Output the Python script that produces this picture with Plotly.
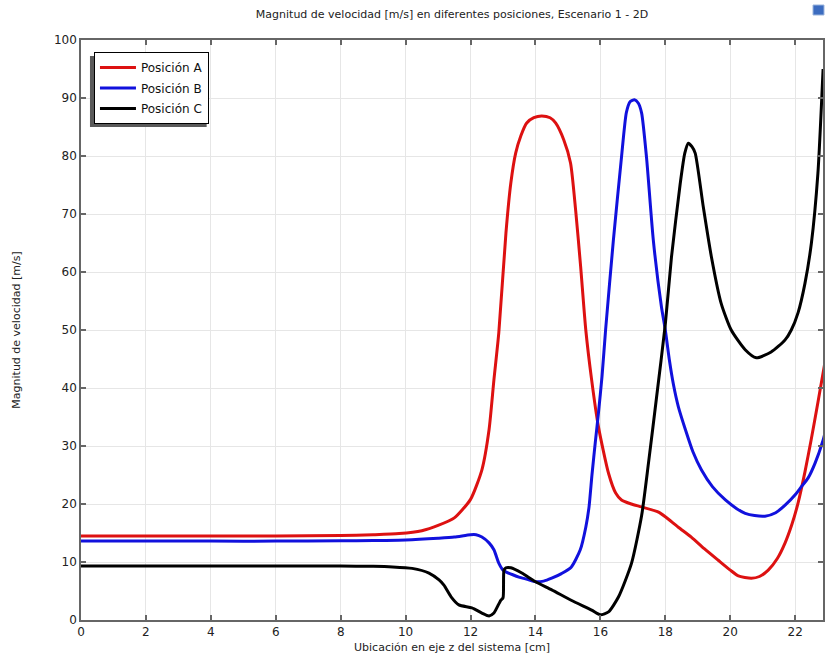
import plotly.graph_objects as go

# Position along the z axis [cm] and velocity magnitude [m/s] for each probe line
x_a = [0, 2, 4, 6, 8, 9, 9.8, 10.5, 11, 11.5, 12, 12.35, 12.57, 12.72, 12.87, 13.09, 13.24,
       13.39, 13.55, 13.73, 13.95, 14.19, 14.45, 14.62, 14.87, 15.08, 15.24, 15.39, 15.55,
       15.73, 15.94, 16.25, 16.47, 16.65, 16.95, 17.27, 17.79, 18.0, 18.4, 18.8, 19.2, 19.63,
       20.0, 20.25, 20.65, 20.9, 21.17, 21.45, 21.69, 21.9, 22.09, 22.3, 22.49, 22.7, 22.86, 22.95]
v_a = [14.5, 14.5, 14.5, 14.5, 14.55, 14.7, 14.9, 15.4, 16.3, 17.6, 20.8, 25.9, 32.8, 41.4,
       49.5, 66.7, 75.3, 80.5, 83.5, 85.7, 86.6, 86.9, 86.6, 85.7, 82.8, 78.8, 70.5, 61.0,
       50.0, 41.4, 33.3, 25.3, 21.9, 20.7, 20.0, 19.5, 18.6, 17.8, 16.0, 14.3, 12.3, 10.3,
       8.6, 7.6, 7.2, 7.5, 8.6, 10.6, 13.3, 16.5, 20.2, 25.5, 31.0, 37.5, 42.6, 45.5]

x_b = [0, 2, 4, 6, 8, 9, 10, 11, 11.5, 12, 12.17, 12.35, 12.57, 12.72, 12.87, 13.0, 13.09,
       13.3, 13.49, 13.75, 14.0, 14.25, 14.5, 14.8, 15.1, 15.38, 15.55, 15.65, 15.74, 15.85,
       15.94, 16.05, 16.16, 16.4, 16.65, 16.8, 16.92, 17.05, 17.17, 17.27, 17.42, 17.63, 17.88,
       18.0, 18.12, 18.25, 18.4, 18.62, 18.85, 19.11, 19.45, 19.85, 20.2, 20.46, 20.75, 21.07,
       21.4, 21.69, 22.0, 22.18, 22.4, 22.61, 22.86, 22.95]
v_b = [13.6, 13.6, 13.6, 13.6, 13.65, 13.7, 13.8, 14.1, 14.3, 14.7, 14.7, 14.3, 13.3, 12.1,
       9.8, 8.6, 8.3, 7.8, 7.4, 7.0, 6.6, 6.7, 7.2, 8.0, 9.1, 12.1, 16.0, 19.5, 25.0, 31.0,
       35.7, 42.0, 50.0, 65.5, 79.8, 87.5, 89.4, 89.7, 89.1, 87.4, 79.8, 65.5, 54.0, 50.0,
       45.0, 40.6, 36.8, 32.8, 29.0, 25.9, 23.0, 20.7, 19.2, 18.4, 18.0, 17.9, 18.5, 19.8,
       21.6, 22.9, 24.5, 27.0, 31.0, 33.0]

x_c = [0, 2, 4, 6, 8, 9, 9.6, 10.2, 10.72, 11.03, 11.18, 11.4, 11.64, 12.04, 12.35, 12.57,
       12.72, 12.93, 13.0, 13.03, 13.09, 13.24, 13.58, 14.0, 14.5, 15.1, 15.73, 16.0, 16.25,
       16.56, 16.96, 17.27, 17.48, 17.73, 18.0, 18.19, 18.46, 18.6, 18.71, 18.82, 18.92, 19.17,
       19.42, 19.72, 20.03, 20.46, 20.8, 21.26, 21.69, 21.88, 22.09, 22.3, 22.5, 22.7, 22.86]
v_c = [9.3, 9.3, 9.3, 9.3, 9.3, 9.25, 9.15, 8.9, 8.1, 6.9, 6.0, 4.0, 2.6, 2.1, 1.2, 0.7,
       1.2, 3.4, 3.8, 8.6, 9.0, 9.0, 8.1, 6.6, 5.2, 3.4, 1.7, 0.9, 1.4, 4.0, 9.8, 18.0, 27.0,
       38.4, 51.0, 62.6, 75.3, 80.5, 82.2, 81.6, 80.5, 71.2, 62.6, 54.6, 50.0, 46.6, 45.2,
       46.2, 48.3, 50.0, 53.0, 58.0, 65.0, 77.0, 95.0]

names = ["Posición A", "Posición B", "Posición C"]
colors = ["#dd1111", "#1111dd", "#000000"]

x_ticks = list(range(0, 23, 2))
y_ticks = list(range(0, 101, 10))

W, H = 825, 660
L, R, T, B = 81, 0, 40, 40
pw, ph = W - L - R, H - T - B


def px(xp):
    return (xp - L) / pw


def py(yp):
    return (H - B - yp) / ph


fig = go.Figure()
for i, (xs, vs) in enumerate([(x_a, v_a), (x_b, v_b), (x_c, v_c)]):
    fig.add_trace(go.Scatter(
        x=xs, y=vs, mode="lines", name=names[i], legendgroup=names[i],
        line=dict(color=colors[i], width=3, shape="spline", smoothing=0.6),
    ))

axis_col = "#666666"
font = "DejaVu Sans"

# drop shadow behind the legend box (offset to the lower left)
shapes = [
    dict(type="rect", xref="paper", yref="paper",
         x0=px(90), x1=px(207), y0=py(127), y1=py(56),
         fillcolor="#5a5a5a", line=dict(width=0), layer="above"),
    # small toolbar icon in the upper right corner
    dict(type="rect", xref="paper", yref="paper",
         x0=px(815), x1=px(826), y0=py(15), y1=py(5),
         fillcolor="#3c6cc0", line=dict(color="#9ab4dc", width=1), layer="above"),
]

fig.update_layout(
    width=W, height=H,
    margin=dict(l=L, r=R, t=T, b=B),
    paper_bgcolor="white", plot_bgcolor="white",
    font=dict(family=font, size=11, color="#222222"),
    title=dict(text="Magnitud de velocidad [m/s] en diferentes posiciones, Escenario 1 - 2D",
               x=0.5, xref="paper", y=1 - 14 / H, yref="container",
               xanchor="center", yanchor="middle",
               font=dict(family=font, size=11, color="#222222")),
    showlegend=True,
    legend=dict(x=px(94), y=py(52), xanchor="left", yanchor="top",
                bgcolor="white", bordercolor="black", borderwidth=1,
                font=dict(family=font, size=12, color="#111111"),
                itemwidth=36, tracegroupgap=1.5, traceorder="grouped"),
    shapes=shapes,
)

fig.update_xaxes(
    range=[0, (W - L) / 32.55], tickvals=x_ticks, ticktext=[str(v) for v in x_ticks],
    showgrid=True, gridcolor="#e6e6e6", gridwidth=1, zeroline=False,
    showline=True, linecolor=axis_col, linewidth=1.5, mirror="ticks",
    ticks="inside", ticklen=5, tickcolor=axis_col, tickwidth=1.5,
    tickfont=dict(family=font, size=12, color="#222222"),
    title=dict(text="Ubicación en eje z del sistema [cm]", standoff=5,
               font=dict(family=font, size=11, color="#222222")),
)
fig.update_yaxes(
    range=[0, 100], tickvals=y_ticks, ticktext=[str(v) for v in y_ticks],
    showgrid=True, gridcolor="#e6e6e6", gridwidth=1, zeroline=False,
    showline=True, linecolor=axis_col, linewidth=1.5, mirror="ticks",
    ticks="inside", ticklen=5, tickcolor=axis_col, tickwidth=1.5,
    tickfont=dict(family=font, size=12, color="#222222"),
    title=dict(text="Magnitud de velocidad [m/s]", standoff=31,
               font=dict(family=font, size=11, color="#222222")),
)

fig.write_html("out.html")
